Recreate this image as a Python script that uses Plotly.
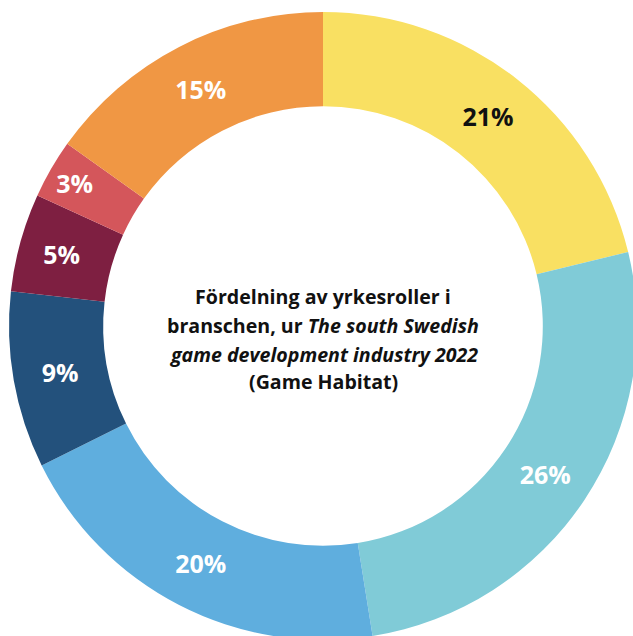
import plotly.graph_objects as go

# Share of occupational roles, clockwise from the top
roles = ["Roll A", "Roll B", "Roll C", "Roll D", "Roll E", "Roll F", "Roll G"]
shares = [21, 26, 20, 9, 5, 3, 15]
colors = ["#F9E062", "#80CBD7", "#5FAEDE", "#23517C", "#7E1F41", "#D4565B", "#F09744"]
label_colors = ["#111111", "white", "white", "white", "white", "white", "white"]

center_lines = [
    "<b>Fördelning av yrkesroller i</b>",
    "<b>branschen, ur <i>The south Swedish</i></b>",
    "<b><i>game development industry 2022</i></b>",
    "<b>(Game Habitat)</b>",
]

W, H = 646, 652
cx, cy, R = 323, 326, 314

fig = go.Figure(
    go.Pie(
        labels=roles,
        values=shares,
        marker=dict(colors=colors, line=dict(width=0)),
        hole=0.70,
        sort=False,
        direction="clockwise",
        rotation=0,
        texttemplate="%{value}%",
        textposition="inside",
        insidetextorientation="horizontal",
        insidetextfont=dict(family="Open Sans", size=25, color=label_colors, weight="bold"),
        domain=dict(x=[(cx - R) / W, (cx + R) / W], y=[1 - (cy + R) / H, 1 - (cy - R) / H]),
        showlegend=False,
        hoverinfo="skip",
    )
)

line_y = [297, 325, 354, 382]
for txt, py in zip(center_lines, line_y):
    fig.add_annotation(
        text=txt, x=cx / W, y=1 - py / H, xref="paper", yref="paper",
        xanchor="center", yanchor="middle", showarrow=False,
        font=dict(family="Open Sans", size=19.6, color="#111111"),
    )

fig.update_layout(
    width=W, height=H,
    margin=dict(l=0, r=0, t=0, b=0),
    paper_bgcolor="white", plot_bgcolor="white",
    uniformtext=dict(mode=False),
)

fig.write_html(
    "out.html",
    post_script="document.documentElement.style.overflow='hidden';"
                "document.body.style.overflow='hidden';document.body.style.margin='0';",
)
